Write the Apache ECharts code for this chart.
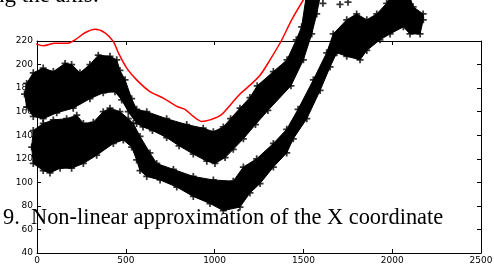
<!DOCTYPE html>
<html>
<head>
<meta charset="utf-8">
<script src="https://cdn.jsdelivr.net/npm/echarts@6/dist/echarts.min.js"></script>
<style>
  html, body { margin: 0; padding: 0; background: #fff; }
  #main { width: 494px; height: 264px; }
</style>
</head>
<body>
<div id="main"></div>
<script>
// tick values
var xTicks = [0, 500, 1000, 1500, 2000, 2500];
var yTicks = [40, 60, 80, 100, 120, 140, 160, 180, 200, 220];

// upper cloud of + points: top edge left->right, bottom edge right->left
var bandATop = [[-70,175],[-58,184],[-21,193],[35,197],[92,194],[158,201],[195,200],[242,193],[298,200],[345,208],[411,207],[449,204],[467,195],[496,187],[533,171],[561,162],[618,160],[730,154],[843,149],[936,146],[993,143],[1049,147],[1090,154],[1143,163],[1199,172],[1240,182],[1331,194],[1408,204],[1460,221],[1490,232],[1520,262]];
var bandABottom = [[1600,262],[1575,243],[1547,226],[1500,204],[1430,182],[1300,161],[1230,149],[1162,137],[1105,128],[1059,121],[1002,116],[956,118],[880,124],[800,131],[730,138],[650,144],[597,147],[561,150],[514,160],[477,170],[439,177],[373,176],[298,171],[204,163],[111,159],[35,154],[-21,156],[-58,164]];
var strayA = [[1610,252],[1706,251],[1751,253]];

// lower cloud of + points
var bandBTop = [[-30,130],[-21,144],[35,150],[92,153],[167,154],[224,157],[261,150],[317,151],[373,160],[411,163],[467,160],[514,154],[542,150],[580,139],[636,125],[674,116],[768,111],[880,105],[993,102],[1105,101],[1162,113],[1237,120],[1331,133],[1406,145],[1470,162],[1556,187],[1631,210],[1668,226],[1744,238],[1800,243],[1857,238],[1913,243],[1969,252],[2006,262]];
var bandBBottom = [[2090,262],[2118,249],[2174,243],[2175,238],[2157,226],[2100,226],[2063,232],[1988,226],[1931,221],[1857,212],[1819,204],[1744,207],[1688,210],[1650,198],[1594,178],[1519,154],[1443,137],[1406,125],[1331,113],[1256,99],[1199,91],[1143,79],[1049,76],[974,82],[880,88],[787,96],[693,102],[618,105],[580,110],[561,119],[533,130],[486,136],[430,133],[336,123],[261,116],[195,112],[130,112],[73,108],[35,110],[-21,116]];

// red curve
var redLine = [[-96,219],[-30,218.5],[36,216],[101,218],[167,218],[214,221],[270,227],[327,230],[383,227],[430,219.5],[458,210],[505,197],[561,187],[636,177],[711,171.5],[787,164.5],[833,162],[880,156],[927,151.7],[974,153],[1035,157],[1096,167],[1143,175],[1181,180],[1256,191],[1312,204],[1375,220],[1434,238],[1500,255]];

var bandA = bandATop.concat(bandABottom);
var bandB = bandBTop.concat(bandBBottom);
var plus = 'path://M3,0h2v8h-2z M0,3h8v2h-8z';

function polySeries(pts) {
  return {
    type: 'custom',
    xAxisIndex: 0, yAxisIndex: 0,
    clip: false,
    silent: true,
    data: pts,
    renderItem: function (params, api) {
      if (params.dataIndex !== 0) return null;
      var p = pts.map(function (d) { return api.coord(d); });
      return {
        type: 'polygon',
        shape: { points: p },
        style: { fill: '#000', stroke: '#000', lineWidth: 1 }
      };
    }
  };
}

function edgeSeries(pts) {
  return {
    type: 'scatter',
    clip: false,
    silent: true,
    symbol: plus,
    symbolSize: 7,
    itemStyle: { color: '#000' },
    data: pts
  };
}

var chart = echarts.init(document.getElementById('main'), null, { renderer: 'canvas' });

var labelFont = { fontFamily: 'DejaVu Sans', fontSize: 9, color: '#000' };

chart.setOption({
  animation: false,
  backgroundColor: '#fff',
  grid: { left: 37, right: 13, top: 41, bottom: 11, containLabel: false, outerBoundsMode: 'none' },
  xAxis: [{
    type: 'value', min: 0, max: 2500, interval: 500, position: 'bottom',
    axisLine: { show: true, onZero: false, lineStyle: { color: '#000', width: 1 } },
    axisTick: { show: true, inside: true, length: 4, lineStyle: { color: '#000' } },
    axisLabel: Object.assign({ margin: 3, formatter: function (v) { return xTicks.indexOf(v) >= 0 ? String(v) : ''; } }, labelFont),
    splitLine: { show: false }
  }, {
    type: 'value', min: 0, max: 2500, interval: 500, position: 'top',
    axisLine: { show: true, onZero: false, lineStyle: { color: '#000', width: 1 } },
    axisTick: { show: true, inside: true, length: 4, lineStyle: { color: '#000' } },
    axisLabel: { show: false },
    splitLine: { show: false }
  }],
  yAxis: [{
    type: 'value', min: 40, max: 220, interval: 20, position: 'left',
    axisLine: { show: true, onZero: false, lineStyle: { color: '#000', width: 1 } },
    axisTick: { show: true, inside: true, length: 4, lineStyle: { color: '#000' } },
    axisLabel: Object.assign({ margin: 4, formatter: function (v) { return yTicks.indexOf(v) >= 0 ? String(v) : ''; } }, labelFont),
    splitLine: { show: false }
  }, {
    type: 'value', min: 40, max: 220, interval: 20, position: 'right',
    axisLine: { show: true, onZero: false, lineStyle: { color: '#000', width: 1 } },
    axisTick: { show: true, inside: true, length: 4, lineStyle: { color: '#000' } },
    axisLabel: { show: false },
    splitLine: { show: false }
  }],
  series: [
    polySeries(bandA),
    polySeries(bandB),
    edgeSeries(bandA),
    edgeSeries(bandB),
    edgeSeries(strayA),
    {
      type: 'line',
      clip: false,
      silent: true,
      smooth: 0.3,
      showSymbol: false,
      data: redLine,
      lineStyle: { color: '#ff0000', width: 1.5 },
      z: 5
    }
  ],
  graphic: [{
    type: 'text',
    left: -7, top: -16,
    z: 100,
    style: { text: 'ng the axis:', font: '23px "Liberation Serif"', fill: '#000' }
  }, {
    type: 'text',
    left: 3, top: 207,
    z: 100,
    style: { text: '9.  Non-linear approximation of the X coordinate', font: '22.4px "Liberation Serif"', fill: '#000' }
  }]
});
</script>
</body>
</html>
